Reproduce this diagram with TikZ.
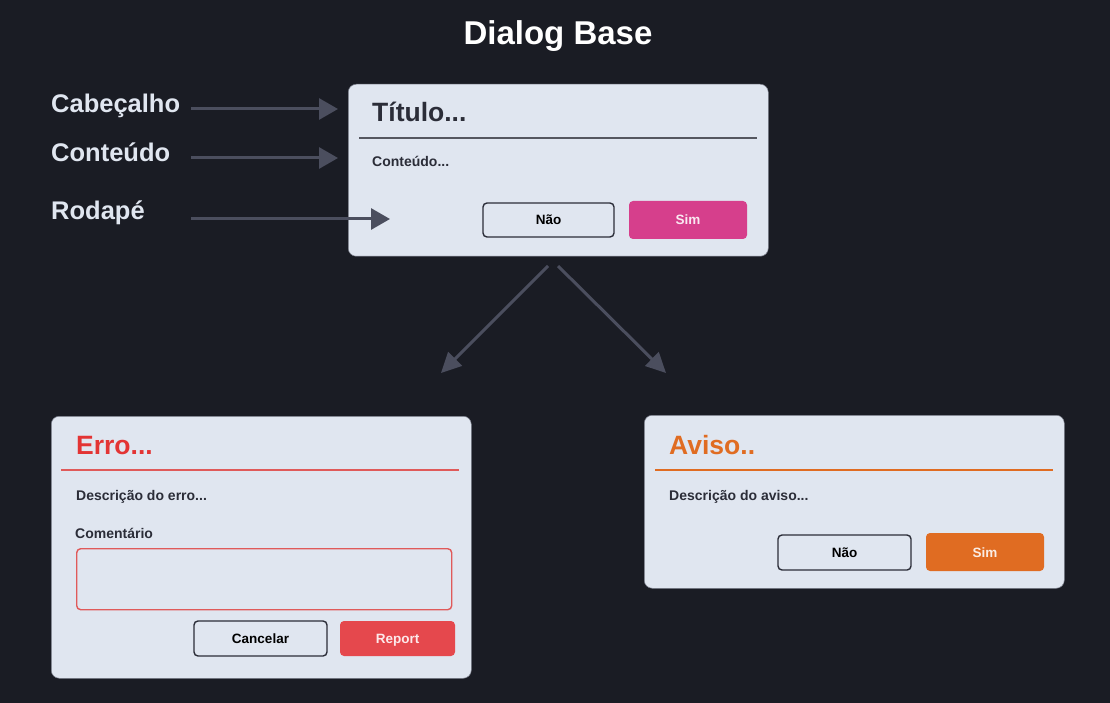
\documentclass[tikz,border=0pt]{standalone}
\usepackage{fontspec}
\setmainfont{Liberation Sans}
\usetikzlibrary{arrows.meta}
\definecolor{bg}{HTML}{1A1C24}
\definecolor{card}{HTML}{E0E6F0}
\definecolor{cardedge}{HTML}{7A7E8A}
\definecolor{ink}{HTML}{2B2D38}
\definecolor{arr}{HTML}{4B4E5E}
\definecolor{pinkc}{HTML}{D63F8C}
\definecolor{errtitle}{HTML}{E33434}
\definecolor{errline}{HTML}{E05A5A}
\definecolor{errfill}{HTML}{E5484D}
\definecolor{orangec}{HTML}{E06C22}
\definecolor{lighttxt}{HTML}{E0E6F0}
\begin{document}
\begin{tikzpicture}[x=1pt,y=-1pt,
  cardbox/.style={draw=cardedge, fill=card, line width=0.5pt, rounded corners=8pt, anchor=north west, inner sep=0pt},
  btnout/.style={draw=ink, fill=card, line width=1.4pt, rounded corners=4pt, inner sep=0pt,
    font=\fontsize{13.5}{16}\selectfont\bfseries, text=black, text height=10pt, text depth=0pt},
  btnfill/.style={rounded corners=4pt, inner sep=0pt,
    font=\fontsize{13.5}{16}\selectfont\bfseries, text height=10pt, text depth=0pt},
  titletxt/.style={anchor=base west, inner sep=0pt, font=\fontsize{26.5}{30}\selectfont\bfseries},
  bodytxt/.style={anchor=base west, inner sep=0pt, text=ink, font=\fontsize{14}{16}\selectfont\bfseries},
  sidetxt/.style={anchor=base west, inner sep=0pt, text=lighttxt, font=\fontsize{25.5}{30}\selectfont\bfseries},
  conn/.style={draw=arr, line width=3pt, -{Triangle[length=19pt,width=21pt]}},
  diag/.style={draw=arr, line width=3pt, -{Triangle[length=20pt,width=19pt]}}
]
\fill[bg] (0,0) rectangle (1110,703);
\useasboundingbox (0,0) rectangle (1110,703);

% heading
\node[anchor=base, inner sep=0pt, text=white, font=\fontsize{33}{38}\selectfont\bfseries] (head) at (558,45) {Dialog Base};

% base dialog
\node[cardbox, minimum width=420pt, minimum height=172pt] (base) at (348,84) {};
\node[titletxt, text=ink] (btitle) at (372,122) {Título...};
\draw[draw=ink!80, line width=2pt] (359,138) -- (757,138);
\node[bodytxt] (bbody) at (372,167) {Conteúdo...};
\node[btnout, minimum width=131pt, minimum height=34pt] (bno) at (548.5,220) {Não};
\node[btnfill, fill=pinkc, text=white!88!pinkc, minimum width=118pt, minimum height=38pt] (bsim) at (688,220) {Sim};

% side labels
\node[sidetxt] (lcab) at (51,113) {Cabeçalho};
\node[sidetxt] (lcon) at (51,162) {Conteúdo};
\node[sidetxt] (lrod) at (51,220) {Rodapé};
\coordinate (cabS) at (191,109);
\coordinate (cabE) at (338,109);
\coordinate (conS) at (191,158);
\coordinate (conE) at (338,158);
\coordinate (rodS) at (191,219);
\coordinate (rodE) at (390,219);
\draw[conn] (cabS) -- (cabE);
\draw[conn] (conS) -- (conE);
\draw[conn] (rodS) -- (rodE);

% diagonal arrows
\coordinate (dlS) at (548,266);
\coordinate (dlE) at (441,373);
\coordinate (drS) at (558,266);
\coordinate (drE) at (666,373);
\draw[diag] (dlS) -- (dlE);
\draw[diag] (drS) -- (drE);

% error dialog
\node[cardbox, minimum width=420pt, minimum height=262pt] (err) at (51,416) {};
\node[titletxt, text=errtitle] (etitle) at (76,454) {Erro...};
\draw[draw=errline, line width=2pt] (61,470) -- (459,470);
\node[bodytxt] (edesc) at (76,500) {Descrição do erro...};
\node[bodytxt] (ecom) at (75,538) {Comentário};
\node[draw=errline, fill=card, line width=1.4pt, rounded corners=4pt, anchor=north west, inner sep=0pt, minimum width=375pt, minimum height=61pt] (ebox) at (76,548) {};
\node[btnout, minimum width=133pt, minimum height=35pt] (ecan) at (260.5,638.5) {Cancelar};
\node[btnfill, fill=errfill, text=white!88!errfill, minimum width=115pt, minimum height=35pt] (erep) at (397.5,638.5) {Report};

% warning dialog
\node[cardbox, minimum width=420pt, minimum height=173pt] (avi) at (644,415) {};
\node[titletxt, text=orangec] (atitle) at (669,454) {Aviso..};
\draw[draw=orangec, line width=2pt] (655,470) -- (1053,470);
\node[bodytxt] (adesc) at (669,500) {Descrição do aviso...};
\node[btnout, minimum width=133pt, minimum height=35pt] (ano) at (844.5,552.5) {Não};
\node[btnfill, fill=orangec, text=white!88!orangec, minimum width=118pt, minimum height=38pt] (asim) at (985,552) {Sim};
\end{tikzpicture}
\end{document}
